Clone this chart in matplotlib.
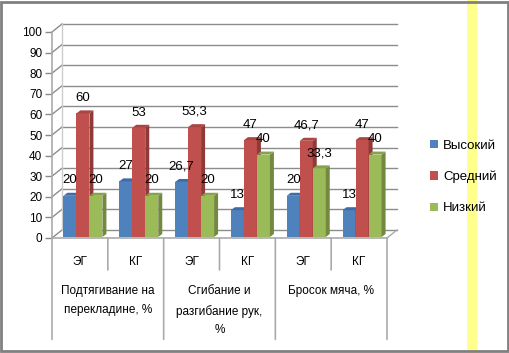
import matplotlib.pyplot as plt
from matplotlib.patches import Polygon, Patch, Rectangle
import numpy as np

plt.rcParams['font.family'] = ['Liberation Sans', 'DejaVu Sans']

groups = ["Подтягивание на\nперекладине, %", "Сгибание и\nразгибание рук,\n%", "Бросок мяча, %"]
subcats = ["ЭГ", "КГ", "ЭГ", "КГ", "ЭГ", "КГ"]
series = ["Высокий", "Средний", "Низкий"]
high = [20, 27, 26.7, 13, 20, 13]
mid = [60, 53, 53.3, 47, 46.7, 47]
low = [20, 20, 20, 40, 33.3, 40]

faces = ['#4F81BD', '#C0504D', '#9BBB59']
sides = ['#3A6090', '#8E3A38', '#72893F']
tops = ['#3F6CA6', '#A84644', '#86A34A']

fig = plt.figure(figsize=(5.1, 3.53), dpi=100)
W, H = 510, 353
ax = fig.add_axes([52 / W, 1 - 238 / H, 335 / W, 206 / H])
ax.set_xlim(-0.5, 5.5)
ax.set_ylim(0, 100)
for s in ax.spines.values():
    s.set_visible(False)
ax.set_xticks([])
ax.set_yticks(range(0, 101, 10))
ax.tick_params(axis='y', length=5, width=1, color='#888888', labelsize=8.5, pad=2)

# depth in data units
dx = 10 / 335 * 6
dy = 8 / 206 * 100
grid_c = '#8c8c8c'

# back wall gridlines and left-wall diagonals
for v in range(0, 101, 10):
    ax.plot([-0.5 + dx, 5.5 + dx], [v + dy, v + dy], color=grid_c, lw=1, clip_on=False, zorder=1)
    ax.plot([-0.5, -0.5 + dx], [v, v + dy], color=grid_c, lw=1, clip_on=False, zorder=1)
ax.plot([-0.5 + dx, -0.5 + dx], [dy, 100 + dy], color='#cccccc', lw=1, clip_on=False, zorder=1)
ax.plot([-0.5, -0.5], [0, 100], color='#aaaaaa', lw=1.2, clip_on=False, zorder=2)
# floor
ax.plot([-0.5, 5.5], [0, 0], color='#aaaaaa', lw=1.2, clip_on=False, zorder=2)
ax.plot([5.5, 5.5 + dx], [0, dy], color='#aaaaaa', lw=1, clip_on=False, zorder=2)

w = 13 / 335 * 6
sdx = 4 / 335 * 6
sdy = 3 / 206 * 100
shift = 0.3 * dx
base = 0.5
x = np.arange(6)
z = 3
for i, vals in enumerate([high, mid, low]):
    bars = ax.bar(x + (i - 1) * w + shift, vals, width=w, bottom=base, color=faces[i],
                  zorder=z, clip_on=False)
    for b, v in zip(bars, vals):
        x0, x1 = b.get_x(), b.get_x() + b.get_width()
        y0, y1 = b.get_y(), b.get_y() + b.get_height()
        ax.add_patch(Polygon([[x1, y0], [x1 + sdx, y0 + sdy], [x1 + sdx, y1 + sdy], [x1, y1]],
                             closed=True, facecolor=sides[i], edgecolor='none', zorder=z, clip_on=False))
        ax.add_patch(Polygon([[x0, y1], [x0 + sdx, y1 + sdy], [x1 + sdx, y1 + sdy], [x1, y1]],
                             closed=True, facecolor=tops[i], edgecolor='none', zorder=z, clip_on=False))
        ax.annotate(f"{v:g}".replace('.', ','), ((x0 + x1) / 2, y1), xytext=(0, 11),
                    textcoords='offset points', ha='center', va='center', fontsize=9.5, zorder=10)
    z += 1

# category table below
for k, lab in enumerate(subcats):
    ax.annotate(lab, (k, 0), xytext=(0, -17), textcoords='offset points',
                ha='center', va='center', fontsize=8.5, annotation_clip=False)
for k in range(3):
    ax.annotate(groups[k], (2 * k + 0.5, 0), xytext=(0, -34), textcoords='offset points',
                ha='center', va='top', fontsize=8.5, linespacing=1.75, annotation_clip=False)
    xm = 2 * k + 0.5
    ax.annotate('', (xm, 0), xytext=(xm, -23), textcoords=('data', 'offset points'),
                arrowprops=dict(arrowstyle='-', color='#aaaaaa', lw=1.2,
                                shrinkA=0, shrinkB=0), annotation_clip=False)
for xg in [-0.5, 1.5, 3.5, 5.5]:
    ax.annotate('', (xg, 0), xytext=(xg, -73), textcoords=('data', 'offset points'),
                arrowprops=dict(arrowstyle='-', color='#aaaaaa', lw=1.2,
                                shrinkA=0, shrinkB=0), annotation_clip=False)

handles = [Patch(facecolor=c, edgecolor='none') for c in faces]
fig.legend(handles, series, loc='center left', bbox_to_anchor=(418 / W, 1 - 177 / H),
           frameon=False, fontsize=9.5, handlelength=0.6, handleheight=0.6,
           handletextpad=0.4, labelspacing=1.45)

# yellow stripe and border
fig.patches.append(Rectangle((467 / W, 0), 10 / W, 1, transform=fig.transFigure,
                             facecolor='#FFFF80', edgecolor='none', zorder=0.5, alpha=0.9))
fig.patches.append(Rectangle((1 / W, 2 / H), 507 / W, 349 / H, transform=fig.transFigure,
                             facecolor='none', edgecolor='#808080', lw=2))

fig.savefig('out.png', dpi=100)
